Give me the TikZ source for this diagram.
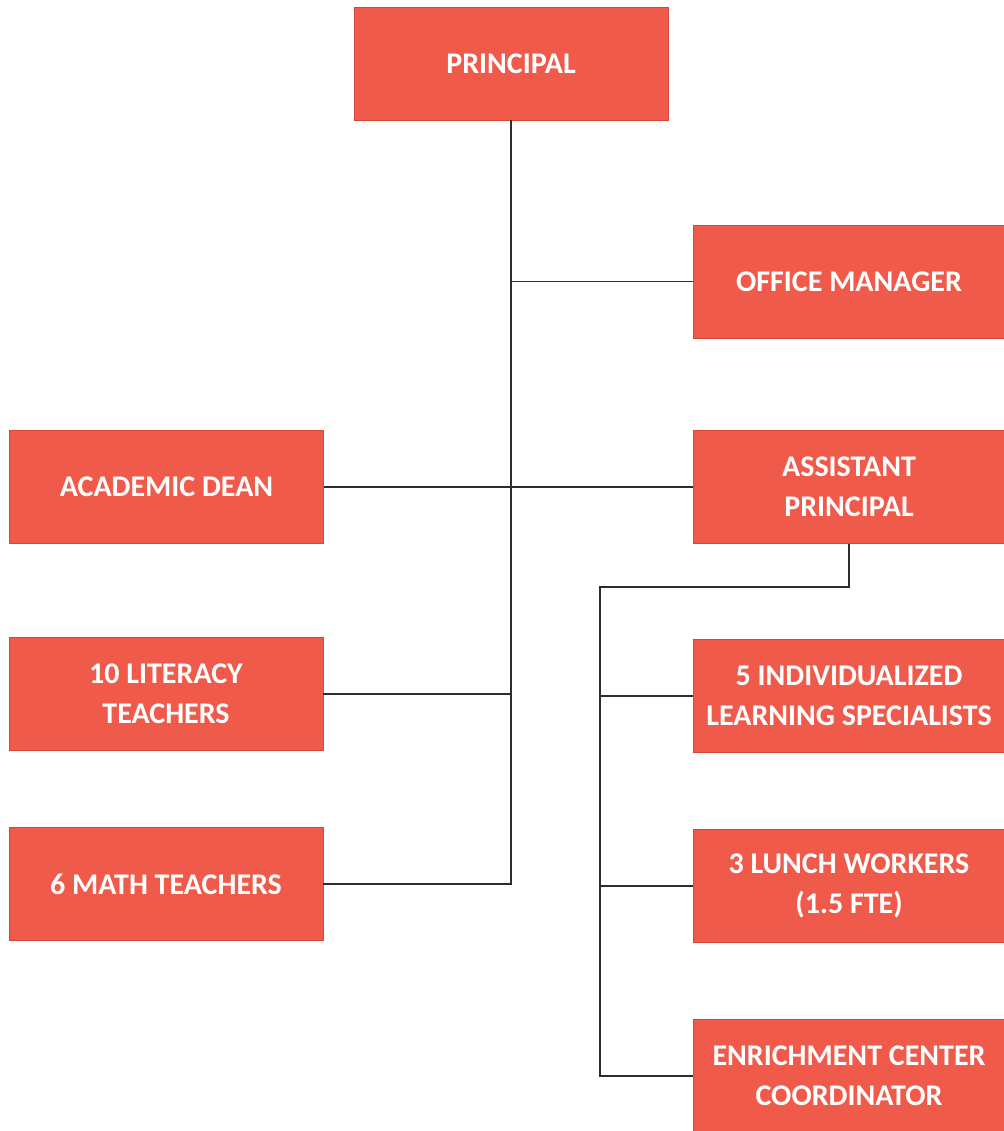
\documentclass[tikz,border=0pt]{standalone}
\usepackage{fontspec}
\setmainfont{Carlito}
\definecolor{boxfill}{RGB}{240,90,74}
\definecolor{boxedge}{RGB}{214,70,58}
\definecolor{linecol}{RGB}{45,45,45}
\begin{document}
\begin{tikzpicture}[x=1pt,y=-1pt,
  orgbox/.style={draw=boxedge, line width=0.8pt, fill=boxfill, text=white,
    minimum height=113pt, inner sep=0pt, align=center,
    font=\fontsize{30}{40}\selectfont\bfseries},
  leftbox/.style={orgbox, minimum width=314pt},
  rightbox/.style={orgbox, minimum width=312pt},
  conn/.style={draw=linecol, line width=1.8pt}]
\useasboundingbox (0,0) rectangle (1003,1131);
\fill[white] (0,0) rectangle (1003,1131);

\node[leftbox] (principal) at (511,63.5) {PRINCIPAL};
\node[rightbox] (office) at (849,281.5) {OFFICE MANAGER};
\node[leftbox] (academic) at (166.5,487) {ACADEMIC DEAN};
\node[rightbox] (ap) at (849,487) {ASSISTANT\\PRINCIPAL};
\node[leftbox] (literacy) at (166,694) {10 LITERACY\\TEACHERS};
\node[rightbox] (ils) at (849,696) {5 INDIVIDUALIZED\\LEARNING SPECIALISTS};
\node[leftbox] (math) at (166,884) {6 MATH TEACHERS};
\node[rightbox] (lunch) at (849,886) {3 LUNCH WORKERS\\(1.5 FTE)};
\node[rightbox] (enrich) at (849,1076) {ENRICHMENT CENTER\\COORDINATOR};

\coordinate (apj) at (600,587);

\draw[conn] (principal.south) |- (math.east);
\draw[conn] (office.west) -- (office.west -| principal.south);
\draw[conn] (academic.east) -- (ap.west);
\draw[conn] (literacy.east) -- (literacy.east -| principal.south);
\draw[conn] (ap.south) |- (apj) |- (enrich.west);
\draw[conn] (ils.west) -- (ils.west -| apj);
\draw[conn] (lunch.west) -- (lunch.west -| apj);
\end{tikzpicture}
\end{document}
